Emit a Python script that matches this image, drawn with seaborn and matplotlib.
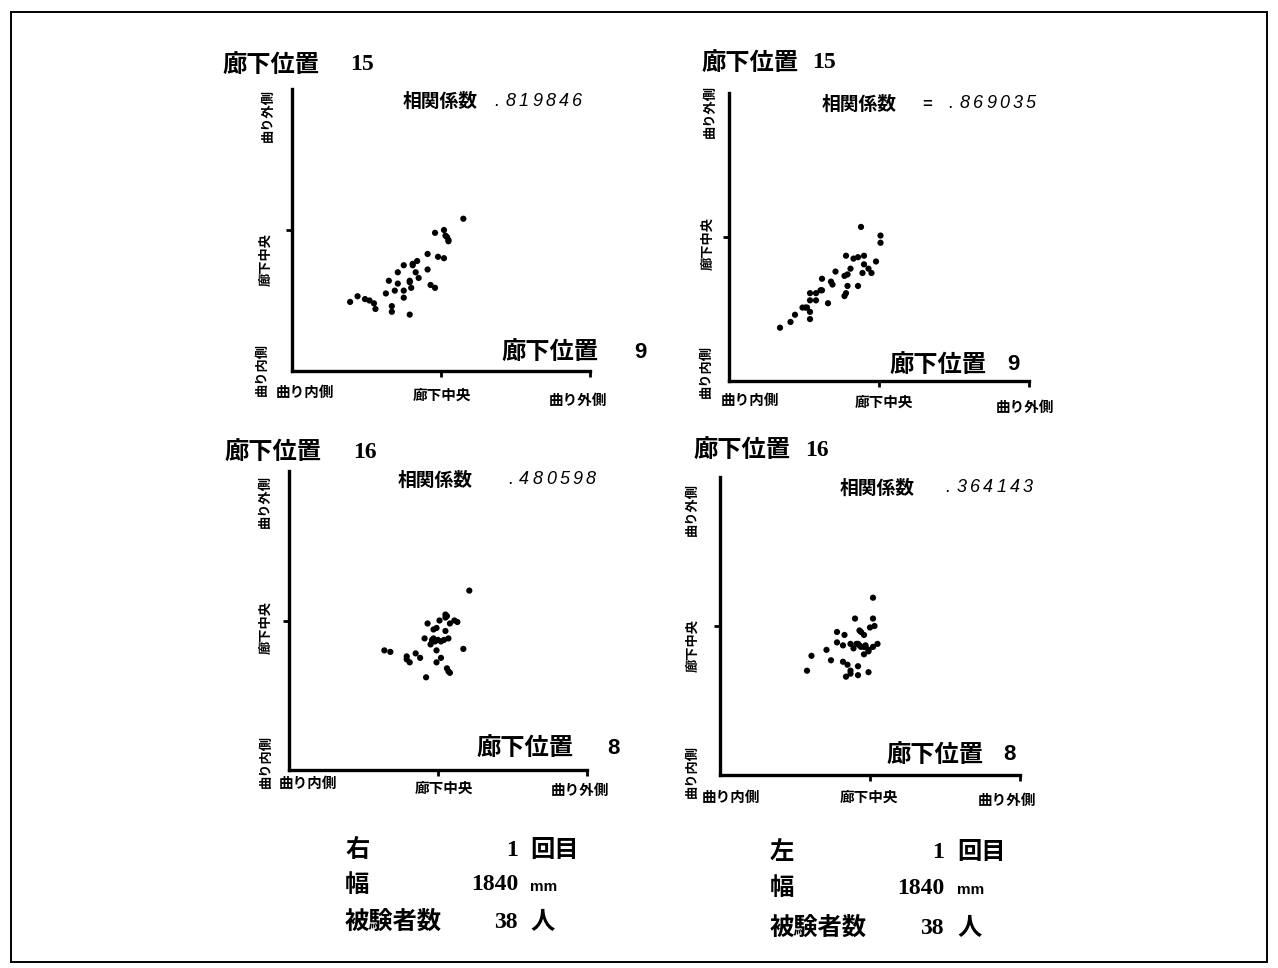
import matplotlib
matplotlib.use("Agg")
import matplotlib.pyplot as plt
import seaborn as sns
import pandas as pd
from matplotlib.patches import Rectangle

sns.set_theme(style="white")
plt.rcParams["font.family"] = ["Noto Sans CJK JP", "DejaVu Sans"]

# ---- data: lateral position in corridor (-1 = inner side of bend, 0 = centre, +1 = outer side)
# right-hand side, corridor position 9 (x) vs 15 (y)
right_9_x = [-0.61, -0.56, -0.51, -0.48, -0.45, -0.44, -0.33, -0.33, -0.21, -0.37,
             -0.31, -0.25, -0.25, -0.35, -0.29, -0.21, -0.21, -0.20, -0.29, -0.25,
             -0.19, -0.19, -0.16, -0.17, -0.15, -0.09, -0.09, -0.07, -0.04, -0.02,
             0.02, -0.04, 0.02, 0.03, 0.04, 0.05, 0.05, 0.15]
right_15_y = [-0.51, -0.47, -0.49, -0.50, -0.52, -0.56, -0.54, -0.58, -0.60, -0.45,
              -0.43, -0.43, -0.48, -0.36, -0.38, -0.37, -0.36, -0.41, -0.30, -0.25,
              -0.24, -0.25, -0.22, -0.30, -0.34, -0.17, -0.28, -0.39, -0.41, -0.19,
              -0.20, -0.02, 0.00, -0.04, -0.05, -0.07, -0.08, 0.08]

# left-hand side, corridor position 9 (x) vs 15 (y)
left_9_x = [-0.66, -0.59, -0.56, -0.51, -0.49, -0.48, -0.46, -0.46, -0.46, -0.42,
            -0.46, -0.42, -0.39, -0.38, -0.38, -0.34, -0.32, -0.31, -0.29, -0.23,
            -0.21, -0.21, -0.23, -0.22, -0.22, -0.19, -0.17, -0.14, -0.14, -0.11,
            -0.10, -0.10, -0.07, -0.05, -0.02, -0.12, 0.01, 0.01]
left_15_y = [-0.63, -0.59, -0.54, -0.49, -0.49, -0.49, -0.52, -0.57, -0.39, -0.39,
             -0.44, -0.44, -0.37, -0.37, -0.29, -0.46, -0.31, -0.33, -0.24, -0.27,
             -0.26, -0.34, -0.41, -0.39, -0.13, -0.22, -0.15, -0.14, -0.34, -0.25,
             -0.19, -0.13, -0.22, -0.25, -0.17, 0.07, 0.01, -0.04]

# right-hand side, corridor position 8 (x) vs 16 (y)
right_8_x = [-0.36, -0.32, -0.21, -0.21, -0.19, -0.15, -0.12, -0.08, -0.09, -0.07,
             -0.05, -0.04, -0.03, -0.02, -0.03, -0.01, -0.01, -0.01, 0.02, 0.02,
             0.04, 0.05, 0.05, 0.05, 0.01, 0.08, 0.07, 0.11, 0.13, 0.06,
             0.07, 0.17, 0.21, -0.04, 0.00, -0.03, 0.06, 0.08]
right_16_y = [-0.20, -0.21, -0.24, -0.26, -0.28, -0.22, -0.25, -0.38, -0.12, -0.02,
              -0.16, -0.13, -0.13, -0.14, -0.06, -0.05, -0.20, -0.28, -0.25, -0.14,
              -0.13, -0.07, 0.04, 0.02, 0.00, -0.02, -0.12, 0.00, -0.01, -0.32,
              -0.34, -0.19, 0.20, -0.14, -0.13, -0.12, 0.03, -0.35]

# left-hand side, corridor position 8 (x) vs 16 (y)
left_8_x = [-0.42, -0.39, -0.29, -0.26, -0.22, -0.22, -0.18, -0.17, -0.18, -0.15,
            -0.16, -0.13, -0.13, -0.13, -0.11, -0.10, -0.09, -0.08, -0.07, -0.06,
            -0.04, -0.06, -0.04, -0.04, -0.08, -0.08, -0.03, -0.01, -0.01, 0.00,
            0.02, 0.03, 0.02, 0.05, -0.01, 0.02, -0.07, -0.03]
left_16_y = [-0.30, -0.20, -0.16, -0.23, -0.04, -0.11, -0.13, -0.06, -0.24, -0.26,
             -0.34, -0.30, -0.32, -0.12, -0.15, 0.05, -0.12, -0.12, -0.03, -0.04,
             -0.06, -0.14, -0.14, -0.19, -0.27, -0.33, -0.13, -0.16, -0.17, -0.01,
             -0.14, 0.00, 0.05, -0.12, -0.31, 0.19, -0.13, -0.14]

corr_labels = [".819846", ".869035", ".480598", ".364143"]
pos_y_labels = ["15", "15", "16", "16"]
pos_x_labels = ["9", "9", "8", "8"]
side_labels = ["右", "左"]
trial_label = "1"
width_label = "1840"
subjects_label = "38"

W, H = 1278, 968
fig = plt.figure(figsize=(W / 100, H / 100), dpi=100)
fig.patch.set_facecolor("white")

BOLD_CJK = dict(fontweight="bold", color="black")


def put(x, y, s, size, ha="left", **kw):
    """Place text using pixel coordinates measured from the top-left corner."""
    opts = dict(BOLD_CJK)
    opts.update(kw)
    return fig.text(x / W, 1 - y / H, s, fontsize=size, ha=ha, va="center", **opts)


def spaced(x, y, s, pitch, size, **kw):
    """Letter-spaced text, as printed on a line printer."""
    for i, ch in enumerate(s):
        fig.text((x + i * pitch) / W, 1 - y / H, ch, fontsize=size,
                 ha="center", va="center", color="black", **kw)


# axes rectangles (left, top, right, bottom) in pixels
boxes = [(292, 89, 590, 371), (729, 93, 1029, 381),
         (289, 471, 587, 770), (720, 477, 1020, 775)]
series = [(right_9_x, right_15_y), (left_9_x, left_15_y),
          (right_8_x, right_16_y), (left_8_x, left_16_y)]

for (l, t, r, b), (xs, ys) in zip(boxes, series):
    ax = fig.add_axes([l / W, 1 - b / H, (r - l) / W, (b - t) / H])
    df = pd.DataFrame({"x": xs, "y": ys})
    sns.scatterplot(data=df, x="x", y="y", ax=ax, color="black", s=20,
                    edgecolor="none", legend=False)
    ax.set_xlim(-1, 1)
    ax.set_ylim(-1, 1)
    ax.set_xlabel("")
    ax.set_ylabel("")
    sns.despine(ax=ax)
    for side in ("left", "bottom"):
        ax.spines[side].set_linewidth(2.4)
        ax.spines[side].set_color("black")
    ax.set_xticks([0, 1])
    ax.set_yticks([0])
    ax.tick_params(axis="both", direction="out", length=4, width=2,
                   color="black", labelbottom=False, labelleft=False,
                   bottom=True, left=True)
    ax.patch.set_alpha(0)

# panel text: (title left, title y, title-number x), (corr left, corr y, num x),
# (x-var left, y, number centre), horizontal tick labels, vertical tick labels
panel_text = [
    dict(title=(222, 65, 350), corr=(403, 101, 497, None), xvar=(501, 352, 640),
         hlab=[(305, 392), (442, 395), (578, 400)],
         vlab=[(268, 116), (265, 259), (262, 369)]),
    dict(title=(701, 63, 812), corr=(822, 104, 951, 927), xvar=(889, 365, 1013),
         hlab=[(750, 400), (884, 402), (1025, 407)],
         vlab=[(710, 112), (707, 243), (706, 372)]),
    dict(title=(224, 452, 353), corr=(398, 480, 511, None), xvar=(476, 748, 613),
         hlab=[(308, 783), (444, 788), (580, 790)],
         vlab=[(265, 502), (265, 628), (266, 762)]),
    dict(title=(693, 450, 805), corr=(840, 488, 948, None), xvar=(886, 755, 1009),
         hlab=[(731, 797), (869, 797), (1007, 800)],
         vlab=[(692, 509), (692, 645), (692, 772)]),
]

h_names = ["曲り内側", "廊下中央", "曲り外側"]
v_names = ["曲り外側", "廊下中央", "曲り内側"]

for i, pt in enumerate(panel_text):
    tx, ty, tn = pt["title"]
    put(tx, ty, "廊下位置", 17.5)
    put(tn, ty, pos_y_labels[i], 17, family="Liberation Serif")

    cx, cy, nx, eq = pt["corr"]
    put(cx, cy, "相関係数", 13.5)
    if eq is not None:
        put(eq, cy, "=", 12, ha="center", family="Liberation Sans")
    spaced(nx, cy, corr_labels[i], 13.3, 13, family="Liberation Sans",
           style="italic")

    vx, vy, vn = pt["xvar"]
    put(vx, vy, "廊下位置", 17.5)
    put(vn, vy, pos_x_labels[i], 16, ha="center", family="Liberation Sans")

    for (hx, hy), name in zip(pt["hlab"], h_names):
        put(hx, hy, name, 10.5, ha="center")
    for (vxx, vyy), name in zip(pt["vlab"], v_names):
        fig.text(vxx / W, 1 - vyy / H, name, fontsize=9.5, rotation=90,
                 ha="center", va="center", **BOLD_CJK)

# condition summary beneath each column
for side, (x0, xnum, xunit, ys) in zip(
        side_labels,
        [(345, 518, 530, (850, 885, 922)), (770, 944, 957, (852, 888, 928))]):
    put(x0, ys[0], side, 17.5)
    put(xnum - 6, ys[0], trial_label, 17, ha="center", family="Liberation Serif")
    put(xunit, ys[0], "回目", 17.5)
    put(x0, ys[1], "幅", 17.5)
    put(xnum, ys[1], width_label, 17, ha="right", family="Liberation Serif")
    put(xunit, ys[1] + 2, "mm", 11, family="Liberation Sans")
    put(x0, ys[2], "被験者数", 17.5)
    put(xnum, ys[2], subjects_label, 17, ha="right", family="Liberation Serif")
    put(xunit, ys[2], "人", 17.5)

# page frame
fig.patches.append(Rectangle((11 / W, 1 - 962 / H), (1267 - 11) / W, (962 - 12) / H,
                             transform=fig.transFigure, fill=False,
                             edgecolor="black", linewidth=1.4))

fig.savefig("out.png", dpi=100, facecolor="white")
